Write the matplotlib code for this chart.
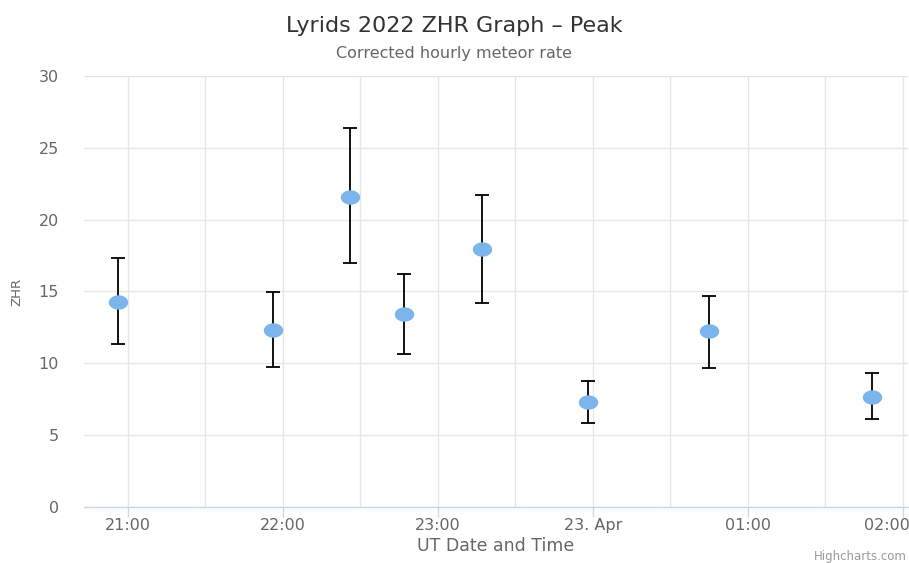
from datetime import datetime
import numpy as np
import matplotlib
matplotlib.use("Agg")
import matplotlib.pyplot as plt
import matplotlib.dates as mdates
import matplotlib.transforms as mtransforms
from matplotlib.path import Path

plt.rcParams["font.family"] = ["DejaVu Sans"]

# Données (heure UT, ZHR, borne basse, borne haute)
heures = ["2022-04-22 20:56", "2022-04-22 21:56", "2022-04-22 22:26", "2022-04-22 22:47",
          "2022-04-22 23:17", "2022-04-22 23:58", "2022-04-23 00:45", "2022-04-23 01:48"]
zhr = [14.3, 12.3, 21.6, 13.45, 17.95, 7.3, 12.25, 7.65]
zhr_bas = [11.35, 9.75, 16.95, 10.65, 14.2, 5.85, 9.7, 6.1]
zhr_haut = [17.3, 14.95, 26.35, 16.2, 21.75, 8.8, 14.7, 9.3]

dates = [datetime.strptime(h, "%Y-%m-%d %H:%M") for h in heures]
x = mdates.date2num(dates)
y = np.array(zhr)
err = [y - np.array(zhr_bas), np.array(zhr_haut) - y]

fig = plt.figure(figsize=(9.09, 5.63), dpi=100)
ax = fig.add_axes([0.0924, 0.0995, 0.9066, 0.7655])

# marqueur elliptique (le graphique d'origine est étiré horizontalement)
t = np.linspace(0, 2 * np.pi, 60)
ellipse = Path(np.column_stack([np.cos(t), 0.74 * np.sin(t)]))

ax.errorbar(x, y, yerr=err, fmt="none", ecolor="black", elinewidth=1.3,
            capsize=5, capthick=1.3, zorder=3)
ax.plot(x, y, linestyle="none", marker=ellipse, markersize=14,
        color="#7cb5ec", markeredgewidth=0, zorder=4)

debut = mdates.date2num(datetime(2022, 4, 22, 20, 43))
fin = mdates.date2num(datetime(2022, 4, 23, 2, 2))
ax.set_xlim(debut, fin)
ax.set_ylim(0, 30)

ax.xaxis.set_major_locator(mdates.HourLocator())
ax.xaxis.set_minor_locator(mdates.MinuteLocator(byminute=[30]))


def etiquette(v, pos):
    d = mdates.num2date(v)
    if d.hour == 0:
        return "23. Apr"
    return d.strftime("%H:%M")


ax.xaxis.set_major_formatter(plt.FuncFormatter(etiquette))
ax.set_yticks(range(0, 31, 5))

ax.grid(True, which="both", axis="x", color="#e6e6e6", linewidth=1)
ax.grid(True, which="major", axis="y", color="#e6e6e6", linewidth=1)
ax.set_axisbelow(True)

for cote in ["top", "right", "left"]:
    ax.spines[cote].set_visible(False)
ax.spines["bottom"].set_color("#ccd6eb")
ax.spines["bottom"].set_linewidth(1)

ax.tick_params(axis="x", which="major", length=7.5, color="#ccd6eb", width=1,
               labelsize=11.5, labelcolor="#666666", pad=0.5)
ax.tick_params(axis="x", which="minor", length=0)
ax.tick_params(axis="y", length=0, labelsize=11.5, labelcolor="#666666", pad=18)

ax.set_xlabel("UT Date and Time", fontsize=12.5, color="#666666", labelpad=3)
ax.set_ylabel("ZHR", fontsize=9.5, color="#666666")
ax.yaxis.set_label_coords(-0.073, 0.5)

# la dernière étiquette est décalée vers la gauche pour rester dans le cadre
fig.canvas.draw()
derniere = [lab for lab in ax.get_xticklabels() if lab.get_text() == "02:00"]
for lab in derniere:
    lab.set_horizontalalignment("right")
    lab.set_transform(lab.get_transform() +
                      mtransforms.ScaledTranslation(5 / 72, 0, fig.dpi_scale_trans))

fig.text(0.5, 0.953, "Lyrids 2022 ZHR Graph – Peak", ha="center", va="center",
         fontsize=16, color="#333333")
fig.text(0.5, 0.905, "Corrected hourly meteor rate", ha="center", va="center",
         fontsize=11.5, color="#666666")
fig.text(0.998, 0.0, "Highcharts.com", ha="right", va="bottom",
         fontsize=8.5, color="#999999")

fig.savefig("out.png", dpi=100)
